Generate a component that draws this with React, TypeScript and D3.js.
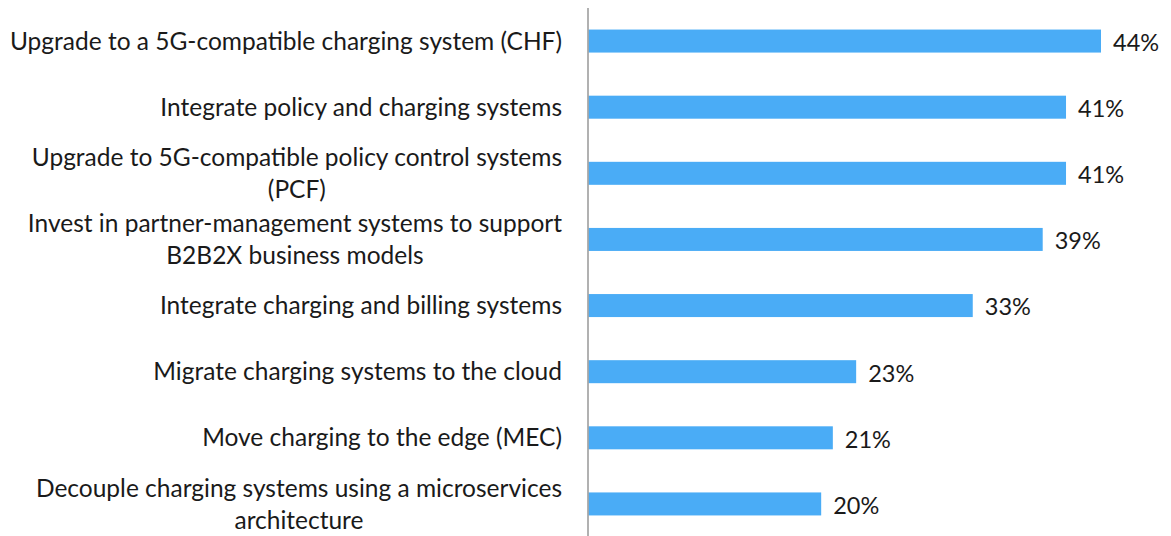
import React, { useEffect, useRef } from "react";
import * as d3 from "d3";

const categories: string[][] = [
  ["Upgrade to a 5G-compatible charging system (CHF)"],
  ["Integrate policy and charging systems"],
  ["Upgrade to 5G-compatible policy control systems", "(PCF)"],
  ["Invest in partner-management systems to support", "B2B2X business models"],
  ["Integrate charging and billing systems"],
  ["Migrate charging systems to the cloud"],
  ["Move charging to the edge (MEC)"],
  ["Decouple charging systems using a microservices", "architecture"],
];
const values: number[] = [44, 41, 41, 39, 33, 23, 21, 20];

const W = 1171;
const H = 536;
const FONT = "Lato, 'Open Sans', sans-serif";

export default function App() {
  const ref = useRef<SVGSVGElement | null>(null);

  useEffect(() => {
    const svg = d3.select(ref.current);
    svg.selectAll("*").remove();

    const x0 = 588;
    const x = d3.scaleLinear().domain([0, 44]).range([x0, 1101]);
    const y = d3
      .scaleBand<number>()
      .domain(d3.range(categories.length))
      .range([8, 537])
      .paddingInner(0.652)
      .paddingOuter(0.326);

    svg
      .append("g")
      .selectAll("rect")
      .data(values)
      .join("rect")
      .attr("x", x(0))
      .attr("y", (_, i) => y(i)!)
      .attr("width", (d) => x(d) - x(0))
      .attr("height", y.bandwidth())
      .attr("fill", "#4AACF6");

    svg
      .append("line")
      .attr("x1", x0)
      .attr("x2", x0)
      .attr("y1", 8)
      .attr("y2", H)
      .attr("stroke", "#A6A6A6")
      .attr("stroke-width", 1.75);

    svg
      .append("g")
      .selectAll("text")
      .data(values)
      .join("text")
      .attr("x", (d) => x(d) + 12)
      .attr("y", (_, i) => y(i)! + y.bandwidth() / 2)
      .attr("dy", "0.42em")
      .attr("font-family", FONT)
      .attr("font-size", 23.5)
      .attr("fill", "#1a1a1a")
      .text((d) => `${d}%`);

    const right = 562;
    const lineH = 32;
    categories.forEach((lines, i) => {
      const cy = y(i)! + y.bandwidth() / 2;
      const g = svg.append("g");
      const texts = lines.map((ln, j) =>
        g
          .append("text")
          .attr("y", cy + (j - (lines.length - 1) / 2) * lineH)
          .attr("dy", "0.35em")
          .attr("font-family", FONT)
          .attr("font-size", 24.5)
          .attr("fill", "#1a1a1a")
          .attr("text-anchor", "middle")
          .text(ln)
      );
      const widths = texts.map((t) => (t.node() as SVGTextElement).getComputedTextLength());
      const maxW = d3.max(widths) ?? 0;
      texts.forEach((t) => t.attr("x", right - maxW / 2));
    });
  }, []);

  return (
    <svg
      ref={ref}
      width={W}
      height={H}
      style={{ position: "absolute", left: 0, top: 0, background: "#fff" }}
    />
  );
}
